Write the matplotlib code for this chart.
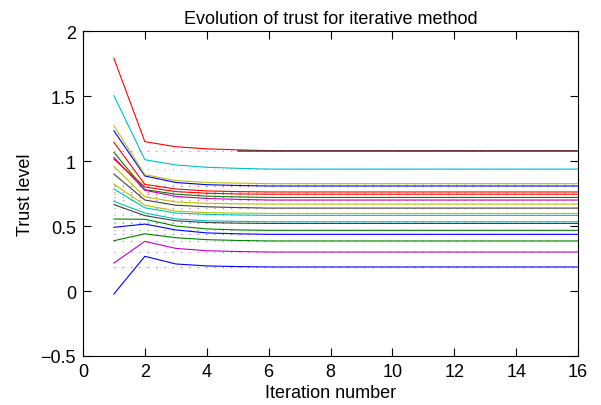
import numpy as np
import matplotlib
matplotlib.use("Agg")
import matplotlib.pyplot as plt

plt.rcParams['font.family'] = ['Liberation Sans', 'DejaVu Sans']

# old MATLAB colour order
blue = (0, 0, 1)
green = (0, 0.5, 0)
red = (1, 0, 0)
cyan = (0, 0.75, 0.75)
magenta = (0.75, 0, 0.75)
olive = (0.75, 0.75, 0)
gray = (0.25, 0.25, 0.25)

colors = [blue, green, red, cyan, magenta, olive, gray,
          blue, green, red, cyan, magenta, olive, gray,
          blue, green, red, cyan, olive]

# trust values for iterations 1..5, then the converged value
iter1 = [1.233, 1.067, 1.79, 1.503, 1.028, 1.272, 0.90,
         0.49, 0.554, 1.144, 0.785, 0.215, 0.959, 0.665,
         -0.023, 0.387, 1.015, 0.69, 0.823]
iter2 = [0.885, 0.78, 1.149, 1.01, 0.775, 0.895, 0.70,
         0.515, 0.552, 0.82, 0.64, 0.382, 0.725, 0.58,
         0.267, 0.44, 0.80, 0.60, 0.66]
iter3 = [0.835, 0.745, 1.11, 0.97, 0.728, 0.85, 0.66,
         0.47, 0.50, 0.785, 0.60, 0.328, 0.685, 0.54,
         0.208, 0.41, 0.765, 0.555, 0.615]
iter4 = [0.818, 0.73, 1.094, 0.952, 0.712, 0.835, 0.648,
         0.447, 0.478, 0.77, 0.59, 0.31, 0.675, 0.527,
         0.193, 0.395, 0.752, 0.54, 0.603]
iter5 = [0.812, 0.724, 1.086, 0.944, 0.705, 0.83, 0.642,
         0.44, 0.47, 0.765, 0.585, 0.304, 0.671, 0.522,
         0.188, 0.389, 0.747, 0.536, 0.599]
final = [0.808, 0.72, 1.08, 0.938, 0.70, 0.826, 0.638,
         0.436, 0.467, 0.762, 0.582, 0.30, 0.669, 0.52,
         0.185, 0.385, 0.745, 0.533, 0.597]

# a dark series that lies on top of the top red one once it has settled
dark_from = 5
dark_value = 1.08

n_iter = 16
iters = np.arange(1, n_iter + 1)

fig = plt.figure(figsize=(6.01, 4.06), dpi=100)
ax = fig.add_axes([0.138, 0.1207, 0.824, 0.8003])

# dotted reference lines at the converged trust
for i in range(len(final)):
    ax.plot(iters, [final[i]] * n_iter, color=colors[i], lw=0.8,
            linestyle=(0, (1, 6.5)), alpha=0.6)

for i in range(len(final)):
    vals = [iter1[i], iter2[i], iter3[i], iter4[i], iter5[i]] + [final[i]] * (n_iter - 5)
    ax.plot(iters, vals, color=colors[i], lw=0.8)

ax.plot(iters[dark_from - 1:], [dark_value] * (n_iter - dark_from + 1),
        color=gray, lw=1.1, zorder=5)

ax.set_xlim(0, 16)
ax.set_ylim(-0.5, 2)
ax.set_xticks(range(0, 17, 2))
ax.set_yticks([-0.5, 0, 0.5, 1, 1.5, 2])
ax.set_yticklabels(['\u22120.5', '0', '0.5', '1', '1.5', '2'])
ax.tick_params(direction='in', top=True, right=True, length=6, width=0.8,
               labelsize=13, pad=5)
for s in ax.spines.values():
    s.set_linewidth(0.8)
    s.set_zorder(6)

ax.set_xlabel("Iteration number", fontsize=13, labelpad=3)
ax.set_ylabel("Trust level", fontsize=13, labelpad=5)
ax.set_title("Evolution of trust for iterative method", fontsize=13, pad=6)

fig.savefig("out.png", dpi=100)
